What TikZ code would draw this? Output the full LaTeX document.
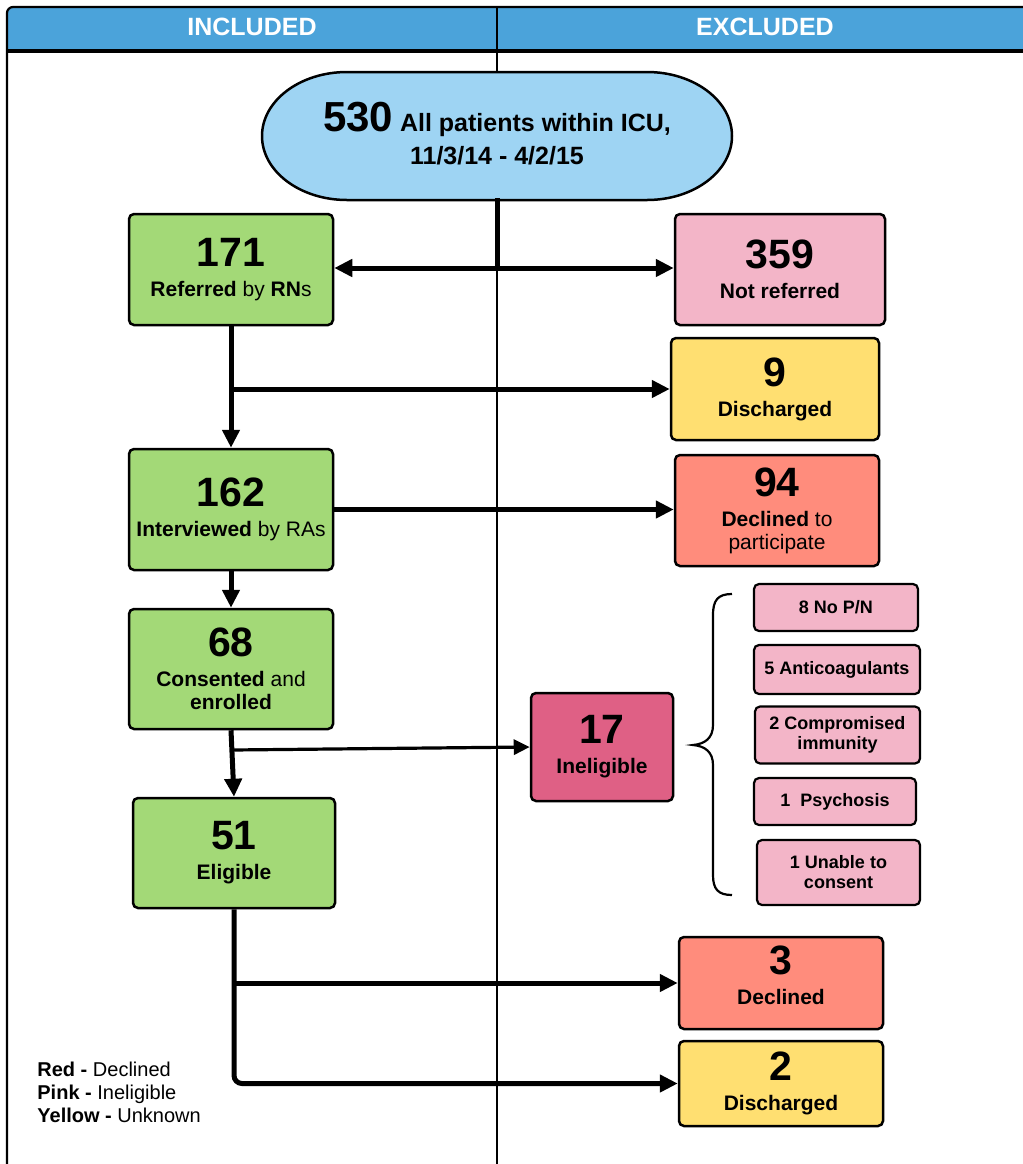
\documentclass[tikz,border=0pt]{standalone}
\usepackage{fontspec}
\setmainfont{Liberation Sans}
\usetikzlibrary{arrows.meta}

\definecolor{hdrblue}{HTML}{4BA3DA}
\definecolor{skyfill}{HTML}{9ED4F3}
\definecolor{grnfill}{HTML}{A3D977}
\definecolor{pnkfill}{HTML}{F3B5C8}
\definecolor{ylwfill}{HTML}{FFDF71}
\definecolor{redfill}{HTML}{FF8C7C}
\definecolor{magfill}{HTML}{DF6085}

\newcommand\BigNum[1]{{\fontsize{20.5pt}{15pt}\selectfont\bfseries #1}}

\tikzset{
  x=0.5pt, y=-0.5pt,
  sz/.style 2 args={minimum width=#1*0.5pt, minimum height=#2*0.5pt},
  box/.style={draw=black, line width=1.25pt, rounded corners=2.5pt, align=center,
              inner sep=0pt, font=\fontsize{10.5pt}{15pt}\selectfont},
  smallbox/.style={draw=black, line width=1.1pt, rounded corners=2.5pt, align=center,
              inner sep=0pt, fill=pnkfill, font=\fontsize{9pt}{10pt}\selectfont\bfseries},
  flow/.style={line width=2.5pt, -{Triangle[length=9pt,width=8.5pt]}},
  thinflow/.style={line width=1.6pt, -{Triangle[length=8pt,width=7.5pt]}},
  trunk/.style={line width=2.5pt},
  hdrtext/.style={text=white, font=\fontsize{12.5pt}{14pt}\selectfont\bfseries},
}

\begin{document}
\begin{tikzpicture}
\useasboundingbox (0,0) rectangle (1023,1164);

% header band and swimlane frame
\fill[hdrblue] {[rounded corners=3pt] (7,51) -- (7,7)} -- (1023,7) -- (1023,51) -- cycle;
\draw[line width=1.1pt, rounded corners=3pt] (7,1164) -- (7,7) -- (1023,7);
\draw[line width=1.8pt] (7,51) -- (1023,51);
\draw[line width=1pt] (497,7) -- (497,1164);
\node[hdrtext] (inc) at (252,27) {INCLUDED};
\node[hdrtext] (exc) at (765,27) {EXCLUDED};

% start: pill with elliptical ends
\filldraw[fill=skyfill, draw=black, line width=1.25pt]
  (347,72) -- (647,72) arc[start angle=-90, end angle=90, x radius=85, y radius=64]
  -- (347,200) arc[start angle=90, end angle=270, x radius=85, y radius=64] -- cycle;
\node[sz={470}{128}, align=center, inner sep=0pt,
      font=\fontsize{12.5pt}{16.5pt}\selectfont\bfseries]
  (top) at (497,134) {{\fontsize{21pt}{16.5pt}\selectfont 530} All patients within ICU,\\11/3/14 - 4/2/15};

% included column
\node[box, fill=grnfill, sz={204}{111}] (n171) at (231,269.5)
  {\BigNum{171}\\\textbf{Referred} by \textbf{RN}s};
\node[box, fill=grnfill, sz={204}{121}] (n162) at (231,509.5)
  {\BigNum{162}\\\textbf{Interviewed} by RAs};
\node[box, fill=grnfill, sz={204}{120}] (n68) at (231,669)
  {\BigNum{68}\\\textbf{Consented} and\\[-3.5pt]\textbf{enrolled}};
\node[box, fill=grnfill, sz={202}{110}] (n51) at (234,853)
  {\BigNum{51}\\\textbf{Eligible}};

% excluded column
\node[box, fill=pnkfill, sz={210}{111}] (n359) at (780,269.5)
  {\BigNum{359}\\\textbf{Not referred}};
\node[box, fill=ylwfill, sz={208}{102}] (n9) at (775,389)
  {\BigNum{9}\\\textbf{Discharged}};
\node[box, fill=redfill, sz={204}{111}] (n94) at (777,510.5)
  {\BigNum{94}\\\textbf{Declined} to\\[-3.5pt]participate};
\node[box, fill=magfill, sz={142}{108}] (n17) at (602,747)
  {\BigNum{17}\\\textbf{Ineligible}};
\node[box, fill=redfill, sz={204}{92}, text depth=8pt] (n3) at (781,983)
  {\BigNum{3}\\\textbf{Declined}};
\node[box, fill=ylwfill, sz={204}{85}] (n2) at (781,1083.5)
  {\BigNum{2}\\\textbf{Discharged}};

% ineligibility reasons
\node[smallbox, sz={164}{47}] (r1) at (836,607.5) {8 No P/N};
\node[smallbox, sz={166}{49}] (r2) at (837,669.5) {5 Anticoagulants};
\node[smallbox, sz={165}{57}] (r3) at (837.5,735) {2 Compromised\\immunity};
\node[smallbox, sz={162}{47}] (r4) at (835,801.5) {1\ \ Psychosis};
\node[smallbox, sz={163}{65}] (r5) at (838.5,872.5) {1 Unable to\\consent};

\draw[line width=1.1pt]
  (732,594) .. controls (718,594) and (713,600) .. (713,615) -- (713,725)
  .. controls (713,738) and (705,744) .. (693,745)
  .. controls (705,746) and (713,752) .. (713,765) -- (713,875)
  .. controls (713,889) and (718,895) .. (732,895);

% connectors
\coordinate (j0) at (497,268);
\coordinate (j1) at (232,389);
\coordinate (j3) at (232,750);
\coordinate (j5) at (234,983);

\draw[trunk] (top.south) -- (j0);
\draw[flow] (j0) -- (n171.east |- j0);
\draw[flow] (j0) -- (n359.west |- j0);
\draw[flow] (n171.south) -- (n162.north);
\draw[flow] (j1) -- (n9.west |- j1);
\draw[flow] (n162.east) -- (n94.west |- n162.east);
\draw[flow] (n162.south) -- (n68.north);
\draw[flow] (n68.south) -- (n51.north);
\draw[thinflow] (j3) -- (n17.west);
\draw[flow, rounded corners=4pt] (n51.south) |- (n2.west);
\draw[flow] (j5) -- (n3.west |- j5);

% colour key
\node[anchor=west, align=left, inner sep=0pt, font=\fontsize{10pt}{11.5pt}\selectfont]
  (key) at (37,1092) {\textbf{Red -} Declined\\\textbf{Pink -} Ineligible\\\textbf{Yellow -} Unknown};
\end{tikzpicture}
\end{document}
